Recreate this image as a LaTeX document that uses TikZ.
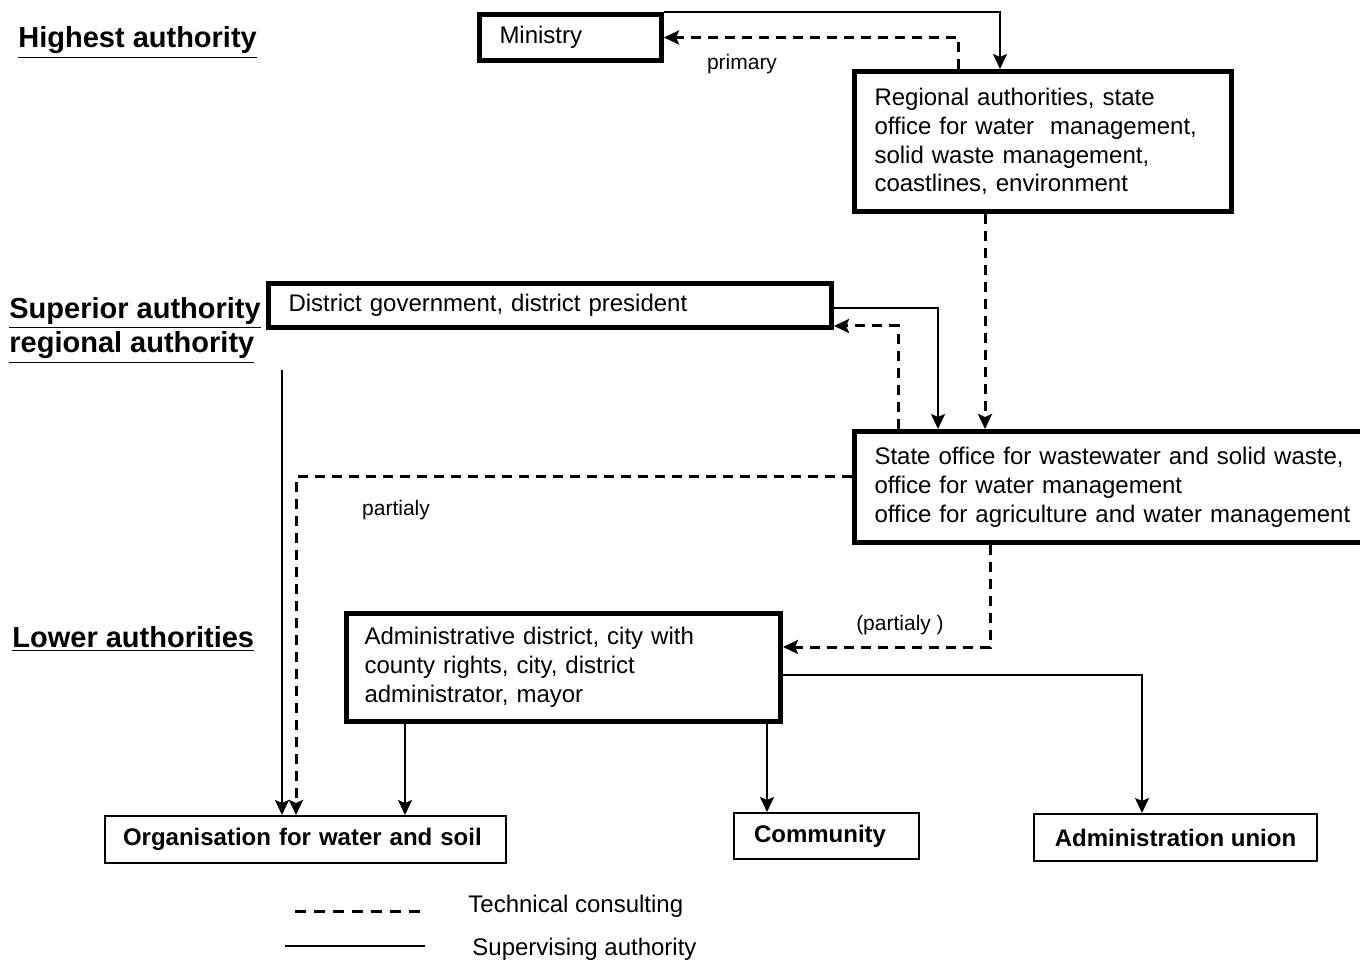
\documentclass[tikz,border=0pt]{standalone}
\usepackage{fontspec}
\setmainfont{Liberation Sans}
\usetikzlibrary{calc,arrows.meta}
\begin{document}
\begin{tikzpicture}[x=0.5pt,y=-0.5pt,
  font=\fontsize{12}{14.4}\selectfont,
  tip/.tip={Stealth[length=7.5pt,width=7pt,inset=1.5pt]},
  thickbox/.style={draw, line width=2.5pt, anchor=north west, inner xsep=10pt,
    inner ysep=0pt, align=left},
  thinbox/.style={draw, line width=1pt, anchor=north west, inner ysep=0pt,
    align=left, font=\fontsize{12}{14.4}\selectfont\bfseries},
  sup/.style={line width=1pt, -tip},
  tech/.style={line width=1.5pt, dash pattern=on 5pt off 3.5pt, -tip},
  heading/.style={anchor=base west, inner sep=0pt, align=left,
    font=\fontsize{14.5}{17}\selectfont\bfseries},
  lbl/.style={inner sep=0pt, font=\fontsize{10.5}{12.6}\selectfont},
  legendtext/.style={anchor=west, inner sep=0pt}]

\useasboundingbox (0,0) rectangle (1360,962);

% level headings
\node[heading] (hHigh) at (18,48) {\underline{Highest authority}};
\node[heading] (hSup1) at (9,319) {\underline{Superior authority}};
\node[heading] (hSup2) at (9,353) {\underline{regional authority}};
\node[heading] (hLow) at (12,647) {\underline{Lower authorities}};

% authorities
\node[thickbox, minimum width=91pt, minimum height=23pt, text width=71pt]
  (ministry) at (477,12) {Ministry};
\node[thickbox, minimum width=188.5pt, minimum height=70pt, text width=168.5pt]
  (regional) at (852,69) {Regional authorities, state\\
    office for water\ \ management,\\ solid waste management,\\
    coastlines, environment};
\node[thickbox, minimum width=281.5pt, minimum height=22pt, text width=261.5pt]
  (district) at (266,281) {District government, district president};
\node[thickbox, minimum width=262pt, minimum height=55.5pt, text width=242pt]
  (state) at (852,429) {State office for wastewater and solid waste,\\
    office for water management\\
    office for agriculture and water management};
\node[thickbox, minimum width=217pt, minimum height=54pt, text width=199pt,
  inner xsep=9pt]
  (admin) at (344,611) {Administrative district, city with\\
    county rights, city, district\\ administrator, mayor};

% executing bodies
\node[thinbox, minimum width=200.5pt, minimum height=23.5pt, inner xsep=9pt,
  text width=182.5pt]
  (org) at (104,815) {Organisation for water and soil};
\node[thinbox, minimum width=92.5pt, minimum height=23pt, inner xsep=10pt,
  text width=72.5pt]
  (community) at (733,812) {Community};
\node[thinbox, minimum width=141.5pt, minimum height=23.5pt, inner xsep=0pt,
  align=center]
  (union) at (1033,813) {Administration union};

% supervising authority
\draw[sup] (ministry.north east) -| ($(regional.north west)+(148,0)$);
\draw[sup] ($(district.north east)+(0,27)$) -| ($(state.north west)+(86,0)$);
\coordinate (supStart) at (282,370);
\draw[sup] (supStart) -- (supStart |- org.north);
\coordinate (adminL) at ($(admin.south west)+(61,0)$);
\draw[sup] (adminL) -- (adminL |- org.north);
\coordinate (adminR) at ($(admin.south west)+(423,0)$);
\draw[sup] (adminR) -- (adminR |- community.north);
\draw[sup] ($(admin.north east)+(0,64)$) -| ($(union.north west)+(109,0)$);

% technical consulting
\draw[tech] ($(regional.north west)+(106,0)$) |- (ministry.east);
\coordinate (regDown) at ($(regional.south west)+(133,0)$);
\draw[tech] (regDown) -- (regDown |- state.north);
\draw[tech] ($(state.north west)+(46,0)$) |- ($(district.south east)+(0,-4)$);
\draw[tech] ($(state.north west)+(0,48)$) -| ($(org.north west)+(192,0)$);
\draw[tech] ($(state.south west)+(138,0)$) |- ($(admin.north east)+(0,36)$);

% edge notes
\node[lbl] (nPrimary) at (742,64) {primary};
\node[lbl] (nPartial) at (396,510) {partialy};
\node[lbl] (nPartial2) at (900,625) {(partialy )};

% legend
\coordinate (legDashA) at (295,911);
\coordinate (legDashB) at (425,911);
\coordinate (legSolidA) at (285,946);
\coordinate (legSolidB) at (425,946);
\draw[line width=1.5pt, dash pattern=on 5.5pt off 4pt] (legDashA) -- (legDashB);
\draw[line width=1pt] (legSolidA) -- (legSolidB);
\node[legendtext] (legTech) at (468,906) {Technical consulting};
\node[legendtext] (legSup) at (472,949) {Supervising authority};
\end{tikzpicture}
\end{document}
